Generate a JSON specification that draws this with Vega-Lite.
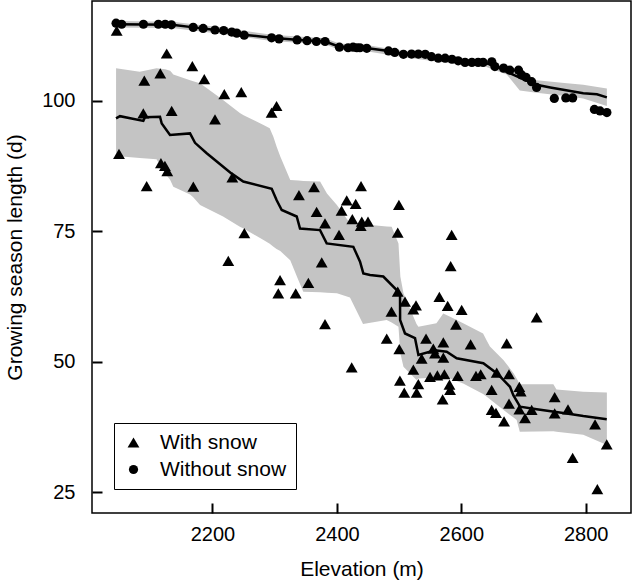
{
  "$schema": "https://vega.github.io/schema/vega-lite/v6.json",
  "width": 539,
  "height": 512,
  "autosize": {"type": "none"},
  "padding": {"left": 92, "top": 1, "right": 2, "bottom": 71},
  "config": {
    "font": "Liberation Sans",
    "view": {"stroke": "black", "strokeWidth": 1.5},
    "axis": {
      "grid": false, "domain": false, "offset": -10, "ticks": true, "zindex": 1,
      "tickColor": "black", "tickSize": 10, "tickWidth": 2,
      "labelFont": "Liberation Sans", "labelFontSize": 20, "labelColor": "black", "labelPadding": 17,
      "titleFont": "Liberation Sans", "titleFontSize": 21, "titleFontWeight": "normal", "titleColor": "black"
    },
    "legend": {
      "orient": "none", "legendX": 22, "legendY": 422,
      "strokeColor": "black", "padding": 9,
      "labelFont": "Liberation Sans", "labelFontSize": 21, "labelColor": "black",
      "labelOffset": 16, "rowPadding": 5, "symbolStrokeWidth": 0
    }
  },
  "datasets": {
    "bandSnow": [
      {"e": 2045, "hi": 106.2, "lo": 89.4}, {"e": 2083, "hi": 105.5, "lo": 89.0}, {"e": 2110, "hi": 106.2, "lo": 88.75},
      {"e": 2124, "hi": 106.0, "lo": 86.05}, {"e": 2132, "hi": 105.7, "lo": 84.8}, {"e": 2137, "hi": 105.0, "lo": 83.5},
      {"e": 2164, "hi": 103.9, "lo": 82.0}, {"e": 2169, "hi": 103.7, "lo": 81.5}, {"e": 2180, "hi": 103.3, "lo": 80.0},
      {"e": 2217, "hi": 100.1, "lo": 77.8}, {"e": 2244, "hi": 97.6, "lo": 75.85}, {"e": 2250, "hi": 97.2, "lo": 75.5},
      {"e": 2282, "hi": 95.3, "lo": 73.3}, {"e": 2292, "hi": 94.7, "lo": 72.6}, {"e": 2298, "hi": 93.0, "lo": 72.0},
      {"e": 2303, "hi": 91.2, "lo": 71.6}, {"e": 2309, "hi": 89.3, "lo": 71.2}, {"e": 2325, "hi": 84.8, "lo": 69.4},
      {"e": 2338, "hi": 84.7, "lo": 65.65}, {"e": 2346, "hi": 84.6, "lo": 63.4}, {"e": 2373, "hi": 84.5, "lo": 63.3},
      {"e": 2384, "hi": 82.2, "lo": 63.2}, {"e": 2400, "hi": 80.0, "lo": 63.1}, {"e": 2421, "hi": 76.5, "lo": 62.3},
      {"e": 2442, "hi": 76.3, "lo": 57.2}, {"e": 2480, "hi": 75.9, "lo": 58.0}, {"e": 2488, "hi": 75.85, "lo": 57.5},
      {"e": 2499, "hi": 72.65, "lo": 56.7}, {"e": 2502, "hi": 66.3, "lo": 51.6}, {"e": 2507, "hi": 63.1, "lo": 49.05},
      {"e": 2528, "hi": 57.2, "lo": 46.5}, {"e": 2531, "hi": 56.7, "lo": 46.8}, {"e": 2560, "hi": 57.35, "lo": 47.0},
      {"e": 2571, "hi": 59.25, "lo": 46.9}, {"e": 2582, "hi": 58.6, "lo": 46.8}, {"e": 2603, "hi": 57.35, "lo": 45.85},
      {"e": 2635, "hi": 55.4, "lo": 43.8}, {"e": 2641, "hi": 54.0, "lo": 43.3}, {"e": 2646, "hi": 52.9, "lo": 42.8},
      {"e": 2668, "hi": 50.3, "lo": 40.75}, {"e": 2684, "hi": 47.8, "lo": 39.3}, {"e": 2689, "hi": 46.8, "lo": 38.85},
      {"e": 2694, "hi": 45.7, "lo": 36.6}, {"e": 2748, "hi": 45.7, "lo": 36.7}, {"e": 2753, "hi": 44.7, "lo": 36.6},
      {"e": 2796, "hi": 44.25, "lo": 36.0}, {"e": 2834, "hi": 44.1, "lo": 34.05}
    ],
    "bandNo": [
      {"e": 2045, "hi": 115.2, "lo": 114.0}, {"e": 2135, "hi": 115.1, "lo": 113.9}, {"e": 2205, "hi": 114.1, "lo": 112.9},
      {"e": 2295, "hi": 112.6, "lo": 111.4}, {"e": 2381, "hi": 111.9, "lo": 110.7}, {"e": 2404, "hi": 110.9, "lo": 109.7},
      {"e": 2450, "hi": 110.6, "lo": 109.4}, {"e": 2507, "hi": 109.5, "lo": 108.3}, {"e": 2610, "hi": 107.9, "lo": 106.7},
      {"e": 2636, "hi": 107.8, "lo": 106.6}, {"e": 2673, "hi": 105.9, "lo": 105.0}, {"e": 2694, "hi": 104.9, "lo": 101.9},
      {"e": 2721, "hi": 103.9, "lo": 101.5}, {"e": 2770, "hi": 103.3, "lo": 100.8}, {"e": 2796, "hi": 103.0, "lo": 100.4},
      {"e": 2834, "hi": 102.3, "lo": 98.95}
    ],
    "lineSnow": [
      {"e": 2044.9, "v": 96.6}, {"e": 2051.3, "v": 97.0}, {"e": 2088.8, "v": 96.1}, {"e": 2091.5, "v": 96.8},
      {"e": 2115.6, "v": 96.9}, {"e": 2118.4, "v": 95.6}, {"e": 2131.7, "v": 93.4}, {"e": 2163.9, "v": 93.7},
      {"e": 2171.9, "v": 91.9}, {"e": 2190.7, "v": 89.9}, {"e": 2230.9, "v": 86.0}, {"e": 2249.5, "v": 84.5},
      {"e": 2295.2, "v": 83.1}, {"e": 2303.2, "v": 80.9}, {"e": 2311.3, "v": 79.05}, {"e": 2335.4, "v": 77.8},
      {"e": 2340.7, "v": 75.5}, {"e": 2372.9, "v": 75.2}, {"e": 2383.6, "v": 72.65}, {"e": 2426.4, "v": 72.0},
      {"e": 2437.2, "v": 69.15}, {"e": 2442.5, "v": 66.9}, {"e": 2453.3, "v": 66.6}, {"e": 2474.6, "v": 66.3},
      {"e": 2496.2, "v": 63.7}, {"e": 2501.5, "v": 62.8}, {"e": 2501.6, "v": 58.0}, {"e": 2509.5, "v": 55.4},
      {"e": 2525.6, "v": 54.5}, {"e": 2531, "v": 51.3}, {"e": 2557.7, "v": 52.2}, {"e": 2576.5, "v": 51.9},
      {"e": 2592.6, "v": 50.65}, {"e": 2635.4, "v": 49.7}, {"e": 2656.9, "v": 47.8}, {"e": 2667.6, "v": 46.5},
      {"e": 2678.3, "v": 45.2}, {"e": 2683.6, "v": 43.6}, {"e": 2694.4, "v": 41.4}, {"e": 2721.2, "v": 40.9},
      {"e": 2769.4, "v": 40.1}, {"e": 2796.1, "v": 39.6}, {"e": 2833.8, "v": 39.0}
    ],
    "lineNo": [
      {"e": 2045, "v": 114.6}, {"e": 2135, "v": 114.5}, {"e": 2170, "v": 114.0}, {"e": 2205, "v": 113.5},
      {"e": 2250, "v": 112.6}, {"e": 2295, "v": 112.0}, {"e": 2340, "v": 111.6}, {"e": 2381, "v": 111.3},
      {"e": 2404, "v": 110.3}, {"e": 2450, "v": 110.0}, {"e": 2483, "v": 109.5}, {"e": 2507, "v": 108.9},
      {"e": 2540, "v": 108.85}, {"e": 2560, "v": 108.2}, {"e": 2590, "v": 107.9}, {"e": 2610, "v": 107.3},
      {"e": 2636, "v": 107.2}, {"e": 2655, "v": 106.7}, {"e": 2673, "v": 105.5}, {"e": 2694, "v": 104.4},
      {"e": 2721, "v": 103.0}, {"e": 2743, "v": 102.5}, {"e": 2796, "v": 101.4}, {"e": 2818, "v": 101.2},
      {"e": 2834, "v": 100.6}
    ],
    "pts": [
      {"e": 2046, "v": 113.4, "g": "With snow"}, {"e": 2126.4, "v": 109.0, "g": "With snow"}, {"e": 2167.6, "v": 106.6, "g": "With snow"},
      {"e": 2090.4, "v": 103.8, "g": "With snow"}, {"e": 2116.1, "v": 105.2, "g": "With snow"}, {"e": 2186.8, "v": 104.1, "g": "With snow"},
      {"e": 2219, "v": 101.2, "g": "With snow"}, {"e": 2246.3, "v": 101.6, "g": "With snow"}, {"e": 2303, "v": 98.95, "g": "With snow"},
      {"e": 2295, "v": 97.7, "g": "With snow"}, {"e": 2088.8, "v": 97.55, "g": "With snow"}, {"e": 2134.4, "v": 98.0, "g": "With snow"},
      {"e": 2204, "v": 96.4, "g": "With snow"}, {"e": 2049.7, "v": 89.8, "g": "With snow"}, {"e": 2117.1, "v": 88.0, "g": "With snow"},
      {"e": 2123.5, "v": 87.5, "g": "With snow"}, {"e": 2127.3, "v": 86.5, "g": "With snow"}, {"e": 2094.2, "v": 83.6, "g": "With snow"},
      {"e": 2169.2, "v": 83.5, "g": "With snow"}, {"e": 2231.9, "v": 85.3, "g": "With snow"}, {"e": 2339, "v": 81.9, "g": "With snow"},
      {"e": 2363.2, "v": 83.4, "g": "With snow"}, {"e": 2438.8, "v": 83.6, "g": "With snow"}, {"e": 2415.8, "v": 80.9, "g": "With snow"},
      {"e": 2430.2, "v": 80.2, "g": "With snow"}, {"e": 2367.4, "v": 78.7, "g": "With snow"}, {"e": 2407.5, "v": 78.9, "g": "With snow"},
      {"e": 2424.8, "v": 77.3, "g": "With snow"}, {"e": 2380.9, "v": 76.5, "g": "With snow"}, {"e": 2440, "v": 76.8, "g": "With snow"},
      {"e": 2450, "v": 76.8, "g": "With snow"}, {"e": 2438.3, "v": 76.0, "g": "With snow"}, {"e": 2403.4, "v": 74.3, "g": "With snow"},
      {"e": 2251.2, "v": 74.6, "g": "With snow"}, {"e": 2225.4, "v": 69.3, "g": "With snow"}, {"e": 2375.6, "v": 69.0, "g": "With snow"},
      {"e": 2308.6, "v": 65.6, "g": "With snow"}, {"e": 2354.1, "v": 65.1, "g": "With snow"}, {"e": 2305.8, "v": 63.1, "g": "With snow"},
      {"e": 2333.8, "v": 63.1, "g": "With snow"}, {"e": 2380.9, "v": 57.2, "g": "With snow"}, {"e": 2423.8, "v": 48.9, "g": "With snow"},
      {"e": 2499.7, "v": 80.0, "g": "With snow"}, {"e": 2497.8, "v": 74.7, "g": "With snow"}, {"e": 2584.5, "v": 74.3, "g": "With snow"},
      {"e": 2582.9, "v": 68.3, "g": "With snow"}, {"e": 2497.8, "v": 63.4, "g": "With snow"}, {"e": 2564.7, "v": 62.4, "g": "With snow"},
      {"e": 2509.5, "v": 61.5, "g": "With snow"}, {"e": 2527.2, "v": 60.8, "g": "With snow"}, {"e": 2522.9, "v": 60.0, "g": "With snow"},
      {"e": 2578.1, "v": 60.7, "g": "With snow"}, {"e": 2600.6, "v": 59.9, "g": "With snow"}, {"e": 2487.7, "v": 59.6, "g": "With snow"},
      {"e": 2721.2, "v": 58.5, "g": "With snow"}, {"e": 2591.5, "v": 57.1, "g": "With snow"}, {"e": 2480.1, "v": 54.4, "g": "With snow"},
      {"e": 2543.3, "v": 54.4, "g": "With snow"}, {"e": 2571.1, "v": 53.7, "g": "With snow"}, {"e": 2500.3, "v": 52.4, "g": "With snow"},
      {"e": 2615.0, "v": 53.3, "g": "With snow"}, {"e": 2673, "v": 53.5, "g": "With snow"}, {"e": 2555, "v": 52.5, "g": "With snow"},
      {"e": 2557.7, "v": 51.6, "g": "With snow"}, {"e": 2536.3, "v": 50.6, "g": "With snow"}, {"e": 2571.1, "v": 50.8, "g": "With snow"},
      {"e": 2522.9, "v": 48.5, "g": "With snow"}, {"e": 2501.3, "v": 46.4, "g": "With snow"}, {"e": 2508.3, "v": 44.1, "g": "With snow"},
      {"e": 2528.2, "v": 44.1, "g": "With snow"}, {"e": 2530.9, "v": 45.7, "g": "With snow"}, {"e": 2549.7, "v": 47.1, "g": "With snow"},
      {"e": 2561.5, "v": 47.4, "g": "With snow"}, {"e": 2572.8, "v": 47.6, "g": "With snow"}, {"e": 2581, "v": 45.6, "g": "With snow"},
      {"e": 2582, "v": 44.6, "g": "With snow"}, {"e": 2570, "v": 42.8, "g": "With snow"}, {"e": 2594.2, "v": 47.3, "g": "With snow"},
      {"e": 2623.6, "v": 47.3, "g": "With snow"}, {"e": 2631.2, "v": 47.6, "g": "With snow"}, {"e": 2656.9, "v": 47.9, "g": "With snow"},
      {"e": 2676.7, "v": 47.6, "g": "With snow"}, {"e": 2648.8, "v": 44.6, "g": "With snow"}, {"e": 2648.8, "v": 40.8, "g": "With snow"},
      {"e": 2655.7, "v": 40.2, "g": "With snow"}, {"e": 2668.7, "v": 38.6, "g": "With snow"}, {"e": 2676.7, "v": 42.0, "g": "With snow"},
      {"e": 2693.3, "v": 45.2, "g": "With snow"}, {"e": 2695.5, "v": 44.3, "g": "With snow"}, {"e": 2693.3, "v": 40.9, "g": "With snow"},
      {"e": 2702.4, "v": 39.2, "g": "With snow"}, {"e": 2713.1, "v": 40.8, "g": "With snow"}, {"e": 2750.1, "v": 43.2, "g": "With snow"},
      {"e": 2750.1, "v": 40.1, "g": "With snow"}, {"e": 2771.5, "v": 40.9, "g": "With snow"}, {"e": 2815, "v": 38.0, "g": "With snow"},
      {"e": 2833.8, "v": 34.2, "g": "With snow"}, {"e": 2779, "v": 31.6, "g": "With snow"}, {"e": 2818.7, "v": 25.6, "g": "With snow"},
      {"e": 2045, "v": 114.8, "g": "Without snow"}, {"e": 2054, "v": 114.6, "g": "Without snow"}, {"e": 2089, "v": 114.6, "g": "Without snow"},
      {"e": 2113, "v": 114.6, "g": "Without snow"}, {"e": 2124, "v": 114.6, "g": "Without snow"}, {"e": 2134, "v": 114.5, "g": "Without snow"},
      {"e": 2169, "v": 114.0, "g": "Without snow"}, {"e": 2185, "v": 113.8, "g": "Without snow"}, {"e": 2204, "v": 113.5, "g": "Without snow"},
      {"e": 2218, "v": 113.4, "g": "Without snow"}, {"e": 2231, "v": 113.1, "g": "Without snow"}, {"e": 2239, "v": 112.9, "g": "Without snow"},
      {"e": 2251, "v": 112.5, "g": "Without snow"}, {"e": 2295, "v": 112.0, "g": "Without snow"}, {"e": 2307, "v": 111.8, "g": "Without snow"},
      {"e": 2336, "v": 111.6, "g": "Without snow"}, {"e": 2352, "v": 111.45, "g": "Without snow"}, {"e": 2367, "v": 111.3, "g": "Without snow"},
      {"e": 2381, "v": 111.3, "g": "Without snow"}, {"e": 2404, "v": 110.2, "g": "Without snow"}, {"e": 2418, "v": 110.1, "g": "Without snow"},
      {"e": 2426, "v": 110.2, "g": "Without snow"}, {"e": 2432, "v": 110.1, "g": "Without snow"}, {"e": 2437, "v": 110.1, "g": "Without snow"},
      {"e": 2448, "v": 110.0, "g": "Without snow"}, {"e": 2483, "v": 109.5, "g": "Without snow"}, {"e": 2493, "v": 109.2, "g": "Without snow"},
      {"e": 2507, "v": 108.85, "g": "Without snow"}, {"e": 2520, "v": 108.9, "g": "Without snow"}, {"e": 2531, "v": 108.9, "g": "Without snow"},
      {"e": 2542, "v": 108.85, "g": "Without snow"}, {"e": 2552, "v": 108.4, "g": "Without snow"}, {"e": 2563, "v": 108.1, "g": "Without snow"},
      {"e": 2574, "v": 108.1, "g": "Without snow"}, {"e": 2585, "v": 107.9, "g": "Without snow"}, {"e": 2595, "v": 107.6, "g": "Without snow"},
      {"e": 2606, "v": 107.3, "g": "Without snow"}, {"e": 2617, "v": 107.3, "g": "Without snow"}, {"e": 2627, "v": 107.3, "g": "Without snow"},
      {"e": 2635, "v": 107.3, "g": "Without snow"}, {"e": 2649, "v": 107.4, "g": "Without snow"}, {"e": 2654, "v": 106.5, "g": "Without snow"},
      {"e": 2668, "v": 106.2, "g": "Without snow"}, {"e": 2678, "v": 105.8, "g": "Without snow"}, {"e": 2692, "v": 105.8, "g": "Without snow"},
      {"e": 2697, "v": 104.9, "g": "Without snow"}, {"e": 2704, "v": 104.45, "g": "Without snow"}, {"e": 2713, "v": 103.6, "g": "Without snow"},
      {"e": 2721, "v": 102.5, "g": "Without snow"}, {"e": 2749.5, "v": 100.4, "g": "Without snow"}, {"e": 2768, "v": 100.5, "g": "Without snow"},
      {"e": 2779, "v": 100.5, "g": "Without snow"}, {"e": 2814, "v": 98.3, "g": "Without snow"}, {"e": 2823, "v": 98.0, "g": "Without snow"},
      {"e": 2834, "v": 97.7, "g": "Without snow"}
    ]
  },
  "encoding": {
    "x": {"field": "e", "type": "quantitative", "title": "Elevation (m)",
      "scale": {"domain": [2006.3, 2872.8], "nice": false, "zero": false},
      "axis": {"values": [2200, 2400, 2600, 2800], "format": "d", "labelPadding": 11, "titlePadding": 14}},
    "y": {"field": "v", "type": "quantitative", "title": "Growing season length (d)",
      "scale": {"domain": [21.04, 119.05], "nice": false, "zero": false},
      "axis": {"values": [25, 50, 75, 100], "format": "d", "titlePadding": 16}}
  },
  "layer": [
    {"data": {"name": "bandSnow"}, "mark": {"type": "area", "color": "#c4c4c4", "opacity": 1},
      "encoding": {"y": {"field": "hi", "type": "quantitative"}, "y2": {"field": "lo"}}},
    {"data": {"name": "bandNo"}, "mark": {"type": "area", "color": "#c4c4c4", "opacity": 1},
      "encoding": {"y": {"field": "hi", "type": "quantitative"}, "y2": {"field": "lo"}}},
    {"data": {"name": "lineSnow"}, "mark": {"type": "line", "color": "black", "strokeWidth": 2.5}, "encoding": {}},
    {"data": {"name": "lineNo"}, "mark": {"type": "line", "color": "black", "strokeWidth": 2.5}, "encoding": {}},
    {"data": {"name": "pts"}, "mark": {"type": "point", "filled": true, "opacity": 1, "strokeWidth": 0},
      "encoding": {
        "shape": {"field": "g", "type": "nominal", "title": null,
          "scale": {"domain": ["With snow", "Without snow"], "range": ["triangle-up", "circle"]}},
        "size": {"field": "g", "type": "nominal", "title": null,
          "scale": {"domain": ["With snow", "Without snow"], "range": [140, 85]}},
        "color": {"value": "black"}
      }}
  ]
}
